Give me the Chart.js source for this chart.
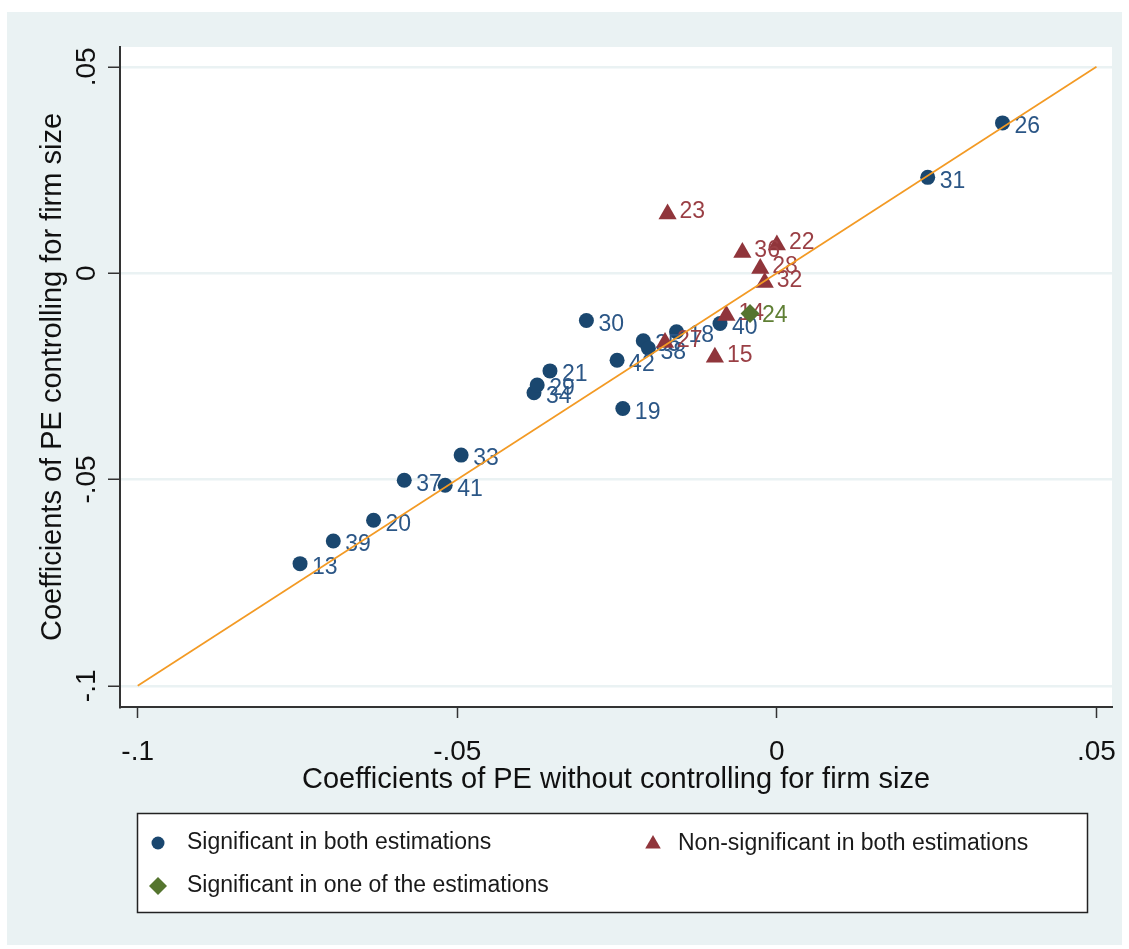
<!DOCTYPE html>
<html>
<head>
<meta charset="utf-8">
<script src="https://cdn.jsdelivr.net/npm/chart.js@4.4.0/dist/chart.umd.min.js"></script>
<style>
  html, body { margin: 0; padding: 0; background: #ffffff; }
  #wrap { position: relative; width: 1129px; height: 949px; }
  canvas { display: block; }
</style>
</head>
<body>
<div id="wrap"><canvas id="c" width="1129" height="949"></canvas></div>
<script>
// Industry coefficients: significant in both estimations
const bothLabels = ['13', '39', '20', '37', '41', '33', '34', '29', '21', '30', '42', '19', '35', '38', '18', '40', '31', '26'];
const bothX = [-0.0746, -0.0694, -0.0631, -0.0583, -0.0519, -0.0494, -0.0380, -0.0375, -0.0355, -0.0298, -0.0250, -0.0241, -0.0209, -0.0201, -0.0157, -0.0089, 0.0236, 0.0353];
const bothY = [-0.0704, -0.0649, -0.0599, -0.0502, -0.0514, -0.0441, -0.0290, -0.0271, -0.0237, -0.0115, -0.0211, -0.0328, -0.0164, -0.0182, -0.0142, -0.0122, 0.0232, 0.0364];

// Non-significant in both estimations
const nonLabels = ['23', '36', '22', '28', '32', '14', '27', '15'];
const nonX = [-0.0171, -0.0054, 0.0000, -0.0026, -0.0019, -0.0079, -0.0175, -0.0097];
const nonY = [0.0143, 0.0050, 0.0068, 0.0011, -0.0023, -0.0103, -0.0168, -0.0204];

// Significant in one of the estimations
const oneLabels = ['24'];
const oneX = [-0.0042];
const oneY = [-0.0098];

// 45-degree reference line
const diagX = [-0.1, 0.05];
const diagY = [-0.1, 0.05];

// Axis ticks
const xTickValues = [-0.1, -0.05, 0, 0.05];
const xTickLabels = ['-.1', '-.05', '0', '.05'];
const yTickValues = [-0.1, -0.05, 0, 0.05];
const yTickLabels = ['-.1', '-.05', '0', '.05'];

const legendNames = ['Significant in both estimations', 'Non-significant in both estimations', 'Significant in one of the estimations'];

const NAVY = '#1a476f';
const MAROON = '#90353b';
const GREEN = '#55752f';
const ORANGE = '#f39a24';
const BG = '#eaf2f3';
const FONT = "'Liberation Sans', Arial, sans-serif";

const toPoints = (xs, ys) => xs.map((x, i) => ({ x: x, y: ys[i] }));

const datasets = [
  {
    type: 'line',
    label: 'diag',
    data: toPoints(diagX, diagY),
    borderColor: ORANGE,
    borderWidth: 1.7,
    pointRadius: 0,
    fill: false,
    tension: 0
  },
  {
    label: legendNames[2],
    data: toPoints(oneX, oneY),
    pointStyle: 'rectRot',
    pointRadius: 9.5,
    backgroundColor: GREEN,
    borderColor: GREEN,
    borderWidth: 0,
    pointLabels: oneLabels,
    labelColor: '#5f7f34',
    labelDy: 2
  },
  {
    label: legendNames[1],
    data: toPoints(nonX, nonY),
    pointStyle: 'triangle',
    pointRadius: 10.5,
    backgroundColor: MAROON,
    borderColor: MAROON,
    borderWidth: 0,
    pointLabels: nonLabels,
    labelColor: '#9a3f45',
    labelDy: -2
  },
  {
    label: legendNames[0],
    data: toPoints(bothX, bothY),
    pointStyle: 'circle',
    pointRadius: 7.5,
    backgroundColor: NAVY,
    borderColor: NAVY,
    borderWidth: 0,
    pointLabels: bothLabels,
    labelColor: '#2b5686',
    labelDy: 4
  }
];

// Figure background and white plot region
const backdrop = {
  id: 'backdrop',
  beforeDraw(chart) {
    const { ctx, chartArea: a } = chart;
    ctx.save();
    ctx.fillStyle = '#ffffff';
    ctx.fillRect(0, 0, chart.width, chart.height);
    ctx.fillStyle = BG;
    ctx.fillRect(7, 12, 1115, 933);
    ctx.fillStyle = '#ffffff';
    ctx.fillRect(a.left, a.top, a.right - a.left, a.bottom - a.top);
    ctx.restore();
  }
};

// Marker labels to the right of each point
const markerLabels = {
  id: 'markerLabels',
  afterDatasetDraw(chart, args) {
    const ds = chart.data.datasets[args.index];
    if (!ds.pointLabels) return;
    const ctx = chart.ctx;
    ctx.save();
    ctx.font = '23px ' + FONT;
    ctx.fillStyle = ds.labelColor;
    ctx.textAlign = 'left';
    ctx.textBaseline = 'middle';
    args.meta.data.forEach((el, i) => {
      ctx.fillText(ds.pointLabels[i], el.x + 12, el.y + ds.labelDy);
    });
    ctx.restore();
  }
};

// Boxed legend below the plot
const boxLegend = {
  id: 'boxLegend',
  afterDraw(chart) {
    const ctx = chart.ctx;
    ctx.save();
    ctx.fillStyle = '#ffffff';
    ctx.fillRect(137, 813, 950, 99);
    ctx.strokeStyle = '#222222';
    ctx.lineWidth = 1.5;
    ctx.strokeRect(137.5, 813.5, 950, 99);

    const entries = [
      { ds: 3, x: 158, y: 843, tx: 187, r: 6.5 },
      { ds: 2, x: 653, y: 844, tx: 678, r: 9 },
      { ds: 1, x: 158, y: 886, tx: 187, r: 9 }
    ];
    entries.forEach(e => {
      const ds = chart.data.datasets[e.ds];
      ctx.fillStyle = ds.backgroundColor;
      ctx.strokeStyle = ds.borderColor;
      ctx.lineWidth = 0;
      Chart.helpers.drawPoint(ctx, { pointStyle: ds.pointStyle, radius: e.r, rotation: 0, borderWidth: 0 }, e.x, e.y);
      ctx.fillStyle = '#1a1a1a';
      ctx.font = '23px ' + FONT;
      ctx.textAlign = 'left';
      ctx.textBaseline = 'middle';
      ctx.fillText(ds.label, e.tx, e.y);
    });
    ctx.restore();
  }
};

const setTicks = (values) => (scale) => {
  scale.ticks = values.map(v => ({ value: v }));
};

new Chart(document.getElementById('c'), {
  type: 'scatter',
  data: { datasets: datasets },
  plugins: [backdrop, markerLabels, boxLegend],
  options: {
    responsive: false,
    devicePixelRatio: 1,
    animation: false,
    layout: { padding: { top: 47, right: 17, left: 0, bottom: 0 } },
    plugins: {
      legend: { display: false },
      tooltip: { enabled: false }
    },
    scales: {
      x: {
        type: 'linear',
        min: -0.10277,
        max: 0.05243,
        afterBuildTicks: setTicks(xTickValues),
        afterFit(scale) {
          scale.height = 242;
          scale.paddingLeft = 0;
          scale.paddingRight = 0;
        },
        grid: { display: true, drawOnChartArea: false, tickLength: 11, tickColor: '#333333', tickWidth: 1.5 },
        border: { display: true, color: '#333333', width: 2 },
        ticks: {
          autoSkip: false,
          maxRotation: 0,
          minRotation: 0,
          padding: 17,
          color: '#111111',
          font: { family: FONT, size: 28 },
          callback: (v) => xTickLabels[xTickValues.findIndex(t => Math.abs(t - v) < 1e-9)]
        },
        title: {
          display: true,
          text: 'Coefficients of PE without controlling for firm size',
          color: '#111111',
          font: { family: FONT, size: 29 },
          padding: { top: 0, bottom: 152 }
        }
      },
      y: {
        type: 'linear',
        min: -0.10514,
        max: 0.05479,
        afterBuildTicks: setTicks(yTickValues),
        afterFit(scale) {
          scale.width = 120;
          scale.paddingTop = 0;
          scale.paddingBottom = 0;
        },
        grid: { display: true, color: BG, lineWidth: 2.5, tickLength: 12, tickColor: '#333333', tickWidth: 1.5 },
        border: { display: true, color: '#333333', width: 2 },
        ticks: {
          autoSkip: false,
          minRotation: 90,
          maxRotation: 90,
          crossAlign: 'center',
          padding: -3,
          color: '#111111',
          font: { family: FONT, size: 28 },
          callback: (v) => yTickLabels[yTickValues.findIndex(t => Math.abs(t - v) < 1e-9)]
        },
        title: {
          display: true,
          text: 'Coefficients of PE controlling for firm size',
          color: '#111111',
          font: { family: FONT, size: 29 },
          padding: { top: 36, bottom: 0 }
        }
      }
    }
  }
});
</script>
</body>
</html>
